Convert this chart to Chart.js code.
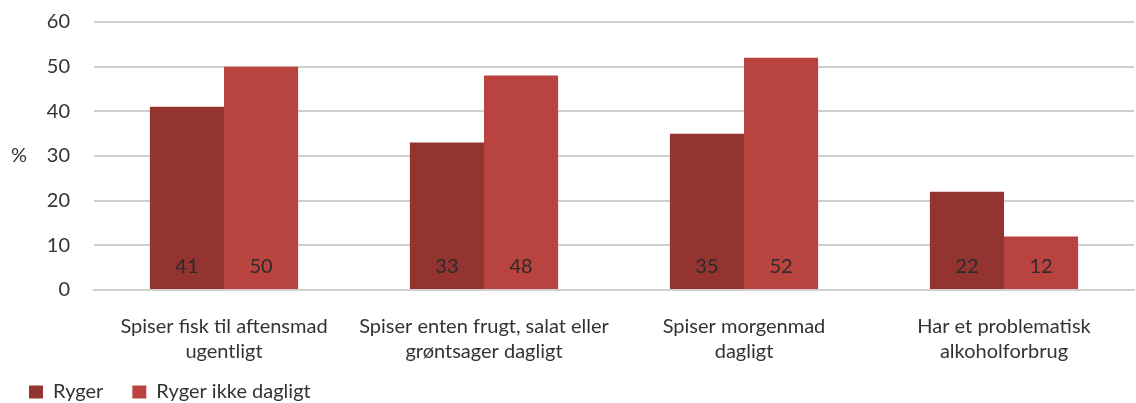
<!DOCTYPE html>
<html>
<head>
<meta charset="utf-8">
<script src="https://cdn.jsdelivr.net/npm/chart.js@4"></script>
<style>
  html, body { margin: 0; padding: 0; background: #fff; }
  #wrap { width: 1136px; height: 403px; }
</style>
</head>
<body>
<div id="wrap"><canvas id="barchart" width="1136" height="403"></canvas></div>
<script>
const categories = [
  ['Spiser fisk til aftensmad', 'ugentligt'],
  ['Spiser enten frugt, salat eller', 'grøntsager dagligt'],
  ['Spiser morgenmad', 'dagligt'],
  ['Har et problematisk', 'alkoholforbrug']
]
const ryger = [41, 33, 35, 22]
const rygerIkke = [50, 48, 52, 12]
const yTicks = [0, 10, 20, 30, 40, 50, 60]

const fontFamily = 'Lato, "Open Sans", sans-serif'

// values written at the foot of each bar
const barValues = {
  id: 'barValues',
  afterDatasetsDraw(chart) {
    const ctx = chart.ctx
    ctx.save()
    ctx.font = '20px ' + fontFamily
    ctx.fillStyle = '#2b2b2b'
    ctx.textAlign = 'center'
    ctx.textBaseline = 'middle'
    chart.data.datasets.forEach((ds, i) => {
      chart.getDatasetMeta(i).data.forEach((bar, j) => {
        ctx.fillText(ds.data[j], bar.x, bar.base - 22)
      })
    })
    ctx.restore()
  }
}

// unrotated "%" beside the y axis
const percentLabel = {
  id: 'percentLabel',
  afterDraw(chart) {
    const ctx = chart.ctx
    const a = chart.chartArea
    ctx.save()
    ctx.font = '20px ' + fontFamily
    ctx.fillStyle = '#333'
    ctx.textAlign = 'center'
    ctx.textBaseline = 'middle'
    ctx.fillText('%', 19, (a.top + a.bottom) / 2)
    ctx.restore()
  }
}

// let the two-line category labels run into the legend band without being clipped
const unclipX = {
  id: 'unclipX',
  afterLayout(chart) {
    chart.scales.x.bottom = chart.height
  }
}

new Chart(
  document.getElementById('barchart'),
  {
    type: 'bar',
    data: {
      labels: categories,
      datasets: [
        {
          label: 'Ryger',
          data: ryger,
          backgroundColor: '#933431'
        },
        {
          label: 'Ryger ikke dagligt',
          data: rygerIkke,
          backgroundColor: '#b9433f'
        }
      ]
    },
    options: {
      responsive: false,
      animation: false,
      layout: {
        padding: { top: 22, right: 2, left: 0, bottom: -9 }
      },
      datasets: {
        bar: {
          barPercentage: 1,
          categoryPercentage: 0.57
        }
      },
      plugins: {
        legend: {
          position: 'bottom',
          align: 'start',
          labels: {
            boxWidth: 14,
            boxHeight: 13,
            color: '#333',
            padding: 29,
            font: { family: fontFamily, size: 20 }
          }
        },
        tooltip: { enabled: false }
      },
      scales: {
        x: {
          grid: { display: false },
          border: { color: '#d0d0d0', width: 2 },
          ticks: {
            color: '#333',
            font: { family: fontFamily, size: 20, lineHeight: 1.25 },
            maxRotation: 0,
            padding: 16
          },
          afterFit(axis) { axis.height = 63 }
        },
        y: {
          min: 0,
          max: 60,
          afterBuildTicks(axis) { axis.ticks = yTicks.map(v => ({ value: v })) },
          grid: { color: '#d0d0d0', lineWidth: 2, drawTicks: false },
          border: { display: false },
          ticks: {
            color: '#333',
            font: { family: fontFamily, size: 20 },
            padding: 24
          },
          afterFit(axis) {
            axis.width = 94
            axis.paddingTop = 0
            axis.paddingBottom = 0
          }
        }
      }
    },
    plugins: [barValues, percentLabel, unclipX]
  }
)
</script>
</body>
</html>
